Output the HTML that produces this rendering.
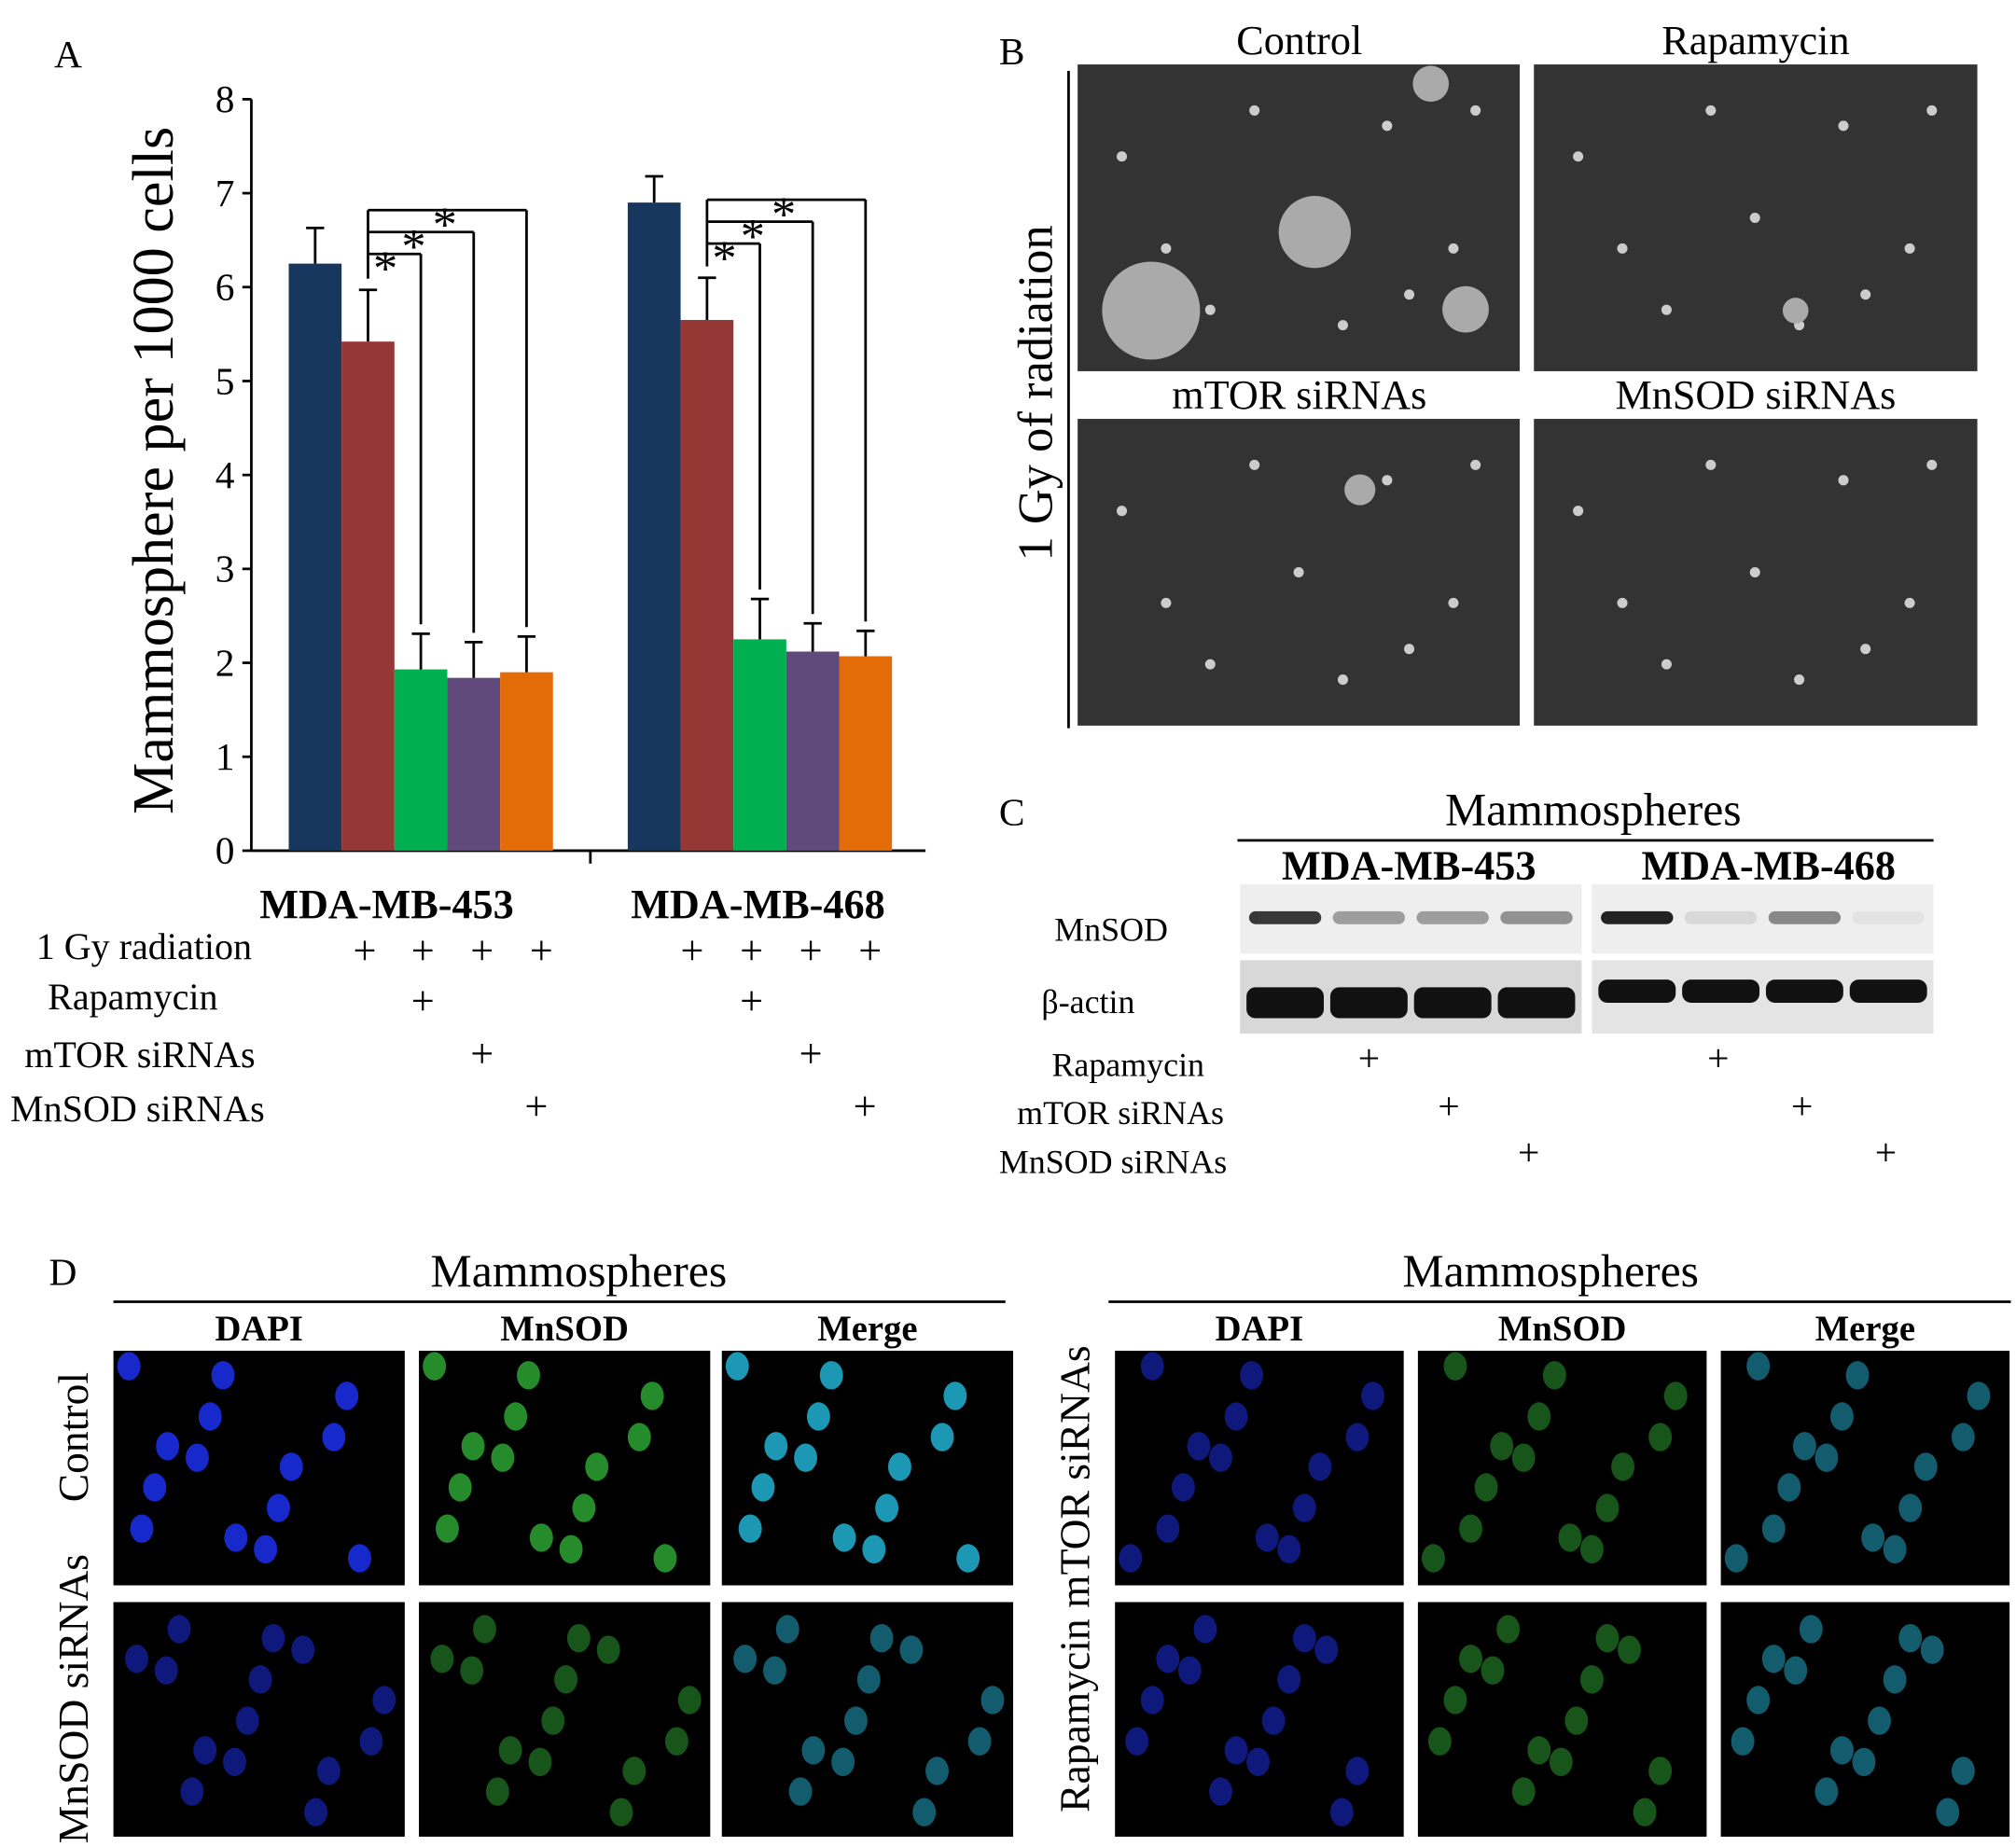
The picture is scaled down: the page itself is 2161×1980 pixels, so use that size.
<!DOCTYPE html>
<html><head><meta charset="utf-8"><style>
html,body{margin:0;padding:0;background:#fff}
svg{display:block}
text{font-family:"Liberation Serif",serif;fill:#000}
</style></head><body>
<svg id="fig" width="2161" height="1980" viewBox="0 0 1564 1433" xmlns="http://www.w3.org/2000/svg">
<rect width="1564" height="1433" fill="#fff"/>
<text x="42" y="52" font-size="30">A</text>
<g id="chartA"></g>
<text x="775" y="50" font-size="30">B</text>
<text x="775" y="640" font-size="30">C</text>
<text x="38" y="997" font-size="30">D</text>
<g id="panelB"></g>
<g id="panelC"></g>
<g id="panelD"></g>
</svg>
<script>
const NS="http://www.w3.org/2000/svg";
function mk(p,t,a,txt){const e=document.createElementNS(NS,t);for(const k in a)e.setAttribute(k,a[k]);if(txt!==undefined)e.textContent=txt;p.appendChild(e);return e;}
// ---- Chart data ----
const groups=["MDA-MB-453","MDA-MB-468"];
const seriesNames=["Control","Radiation","Rapamycin","mTOR siRNAs","MnSOD siRNAs"];
const seriesColors=["#17375e","#953735","#00b050","#604a7b","#e36c09"];
const values453=[6.25,5.42,1.93,1.84,1.9];
const values468=[6.9,5.65,2.25,2.12,2.07];
const errors453=[0.38,0.55,0.38,0.38,0.38];
const errors468=[0.28,0.45,0.43,0.3,0.27];
const yTicks=[0,1,2,3,4,5,6,7,8];
const A=document.getElementById('chartA');
const y0=660,yTop=77,yMax=8;
const yS=v=>y0-(v/yMax)*(y0-yTop);
const groupStart=[224,487],barW=41;
const xS=(g,i)=>groupStart[g]+i*barW;
let ax=mk(A,'line',{x1:195,y1:yTop,x2:195,y2:y0,stroke:'#000','stroke-width':2});

ax=mk(A,'line',{x1:195,y1:y0,x2:718,y2:y0,stroke:'#000','stroke-width':2});

mk(A,'line',{x1:458,y1:y0,x2:458,y2:y0+10,stroke:'#000','stroke-width':2});
yTicks.forEach(v=>{
 mk(A,'line',{x1:188,y1:yS(v),x2:195,y2:yS(v),stroke:'#000','stroke-width':2});
 const t=mk(A,'text',{x:182,y:yS(v)+10,'font-size':30,'text-anchor':'end'},v);
 
});
const yt=mk(A,'text',{x:0,y:0,'font-size':45,'text-anchor':'middle',transform:'translate(134,365) rotate(-90)'},'Mammosphere per 1000 cells');

const plusRowX=[[283,328,374,420],[537,583,629,675]];
[values453,values468].forEach((vals,g)=>{
 const errs=g?errors468:errors453;
 vals.forEach((v,i)=>{
  const r=mk(A,'rect',{x:xS(g,i),y:yS(v),width:barW,height:y0-yS(v),fill:seriesColors[i]});
  
  
  const cx=xS(g,i)+barW/2;
  mk(A,'line',{x1:cx,y1:yS(v),x2:cx,y2:yS(v+errs[i]),stroke:'#000','stroke-width':2});
  mk(A,'line',{x1:cx-7,y1:yS(v+errs[i]),x2:cx+7,y2:yS(v+errs[i]),stroke:'#000','stroke-width':2});
 });
 const bx=xS(g,1)+barW/2;
 const levels=[yS(vals[1]+errs[1]+0.12)];
 const hy=[163,180,197].map(h=>h+(g?-8:0));
 mk(A,'line',{x1:bx,y1:hy[0],x2:bx,y2:levels[0],stroke:'#000','stroke-width':2});
 [4,3,2].forEach((k,j)=>{
  const tx=xS(g,k)+barW/2;
  mk(A,'line',{x1:bx,y1:hy[j],x2:tx,y2:hy[j],stroke:'#000','stroke-width':2});
  mk(A,'line',{x1:tx,y1:hy[j],x2:tx,y2:yS(vals[k]+errs[k]+0.1),stroke:'#000','stroke-width':2});
 });
 mk(A,'text',{x:bx+50,y:hy[0]+24,'font-size':38},'*');
 mk(A,'text',{x:bx+26,y:hy[1]+24,'font-size':38},'*');
 mk(A,'text',{x:bx+4,y:hy[2]+24,'font-size':38},'*');
 const gl=mk(A,'text',{x:[300,588][g],y:712,'font-size':32,'font-weight':'bold','text-anchor':'middle'},groups[g]);
 
 for(let i=0;i<4;i++) mk(A,'text',{x:plusRowX[g][i],y:748,'font-size':32,'text-anchor':'middle'},'+');
 for(let i=1;i<4;i++) mk(A,'text',{x:plusRowX[g][i]-(i==3?4:0),y:787+(i-1)*41,'font-size':32,'text-anchor':'middle'},'+');
});
[['1 Gy radiation',28,744],['Rapamycin',37,783],['mTOR siRNAs',19,828],['MnSOD siRNAs',8,870]].forEach(a=>{
 const t=mk(A,'text',{x:a[1],y:a[2],'font-size':29},a[0]);
});
// ---- Panel B ----
const B=document.getElementById('panelB');
mk(B,'line',{x1:829,y1:55,x2:829,y2:565,stroke:'#000','stroke-width':2});
mk(B,'text',{x:0,y:0,'font-size':38,'text-anchor':'middle',transform:'translate(816,305) rotate(-90)'},'1 Gy of radiation');
[[836,50,'Control'],[1190,50,'Rapamycin'],[836,325,'mTOR siRNAs'],[1190,325,'MnSOD siRNAs']].forEach((p,k)=>{
 const r=mk(B,'rect',{x:p[0],y:p[1],width:p[0]>1000?344:343,height:238,fill:'#333'});
 
 mk(B,'text',{x:p[0]+172,y:p[1]-8,'font-size':32,'text-anchor':'middle'},p[2]);
 const dots=[[0.1,0.3],[0.3,0.8],[0.5,0.5],[0.7,0.2],[0.85,0.6],[0.2,0.6],[0.6,0.85],[0.9,0.15],[0.4,0.15],[0.75,0.75]];
 dots.forEach(d=>mk(B,'circle',{cx:p[0]+d[0]*343,cy:p[1]+d[1]*238,r:4,fill:'#ccc'}));
 if(k==0){mk(B,'circle',{cx:893,cy:241,r:38,fill:'#aaa'});mk(B,'circle',{cx:1020,cy:180,r:28,fill:'#aaa'});mk(B,'circle',{cx:1137,cy:240,r:18,fill:'#aaa'});mk(B,'circle',{cx:1110,cy:65,r:14,fill:'#aaa'});}
 if(k==1)mk(B,'circle',{cx:1393,cy:241,r:10,fill:'#aaa'});
 if(k==2)mk(B,'circle',{cx:1055,cy:380,r:12,fill:'#aaa'});
});
// ---- Panel C ----
const C=document.getElementById('panelC');
mk(C,'text',{x:1236,y:640,'font-size':36,'text-anchor':'middle'},'Mammospheres');
mk(C,'line',{x1:960,y1:652,x2:1500,y2:652,stroke:'#000','stroke-width':2});
mk(C,'text',{x:1093,y:682,'font-size':32,'font-weight':'bold','text-anchor':'middle'},'MDA-MB-453');
mk(C,'text',{x:1372,y:682,'font-size':32,'font-weight':'bold','text-anchor':'middle'},'MDA-MB-468');
mk(C,'text',{x:818,y:730,'font-size':26},'MnSOD');
mk(C,'text',{x:808,y:786,'font-size':26},'β-actin');
[[962,265],[1235,265]].forEach((b,g)=>{
 mk(C,'rect',{x:b[0],y:686,width:b[1],height:54,fill:'#eee'});
 mk(C,'rect',{x:b[0],y:745,width:b[1],height:57,fill:g?'#e4e4e4':'#d8d8d8'});
 for(let i=0;i<4;i++){
  const cx=b[0]+35+i*65;
  const mns=g?[1,0.1,0.5,0.05][i]:[0.9,0.4,0.4,0.45][i];
  mk(C,'rect',{x:cx-28,y:707,width:56,height:10,rx:5,fill:'#222','fill-opacity':mns});
  mk(C,'rect',{x:cx-30,y:g?760:766,width:60,height:g?18:24,rx:7,fill:'#111'});
 }
});
[['Rapamycin',816,835],['mTOR siRNAs',789,872],['MnSOD siRNAs',775,910]].forEach((a,i)=>{
 mk(C,'text',{x:a[1],y:a[2],'font-size':26},a[0]);
 mk(C,'text',{x:1062+i*62,y:a[2]+(i==2?-6:-4),'font-size':30,'text-anchor':'middle'},'+');
 mk(C,'text',{x:1333+i*65,y:a[2]+(i==2?-6:-4),'font-size':30,'text-anchor':'middle'},'+');
});
// ---- Panel D ----
const D=document.getElementById('panelD');
[[88,1000,449],[860,1000,1203]].forEach((s,h)=>{
 mk(D,'text',{x:s[2],y:s[1]-2,'font-size':36,'text-anchor':'middle'},'Mammospheres');
 mk(D,'line',{x1:s[0],y1:s[1]+10,x2:s[0]+(h?700:692),y2:s[1]+10,stroke:'#000','stroke-width':2});
 const cols=h?[865,1100,1335]:[88,325,560];
 const w=h?224:226;
 ['DAPI','MnSOD','Merge'].forEach((n,c)=>{
  mk(D,'text',{x:cols[c]+w/2,y:1040,'font-size':28,'font-weight':'bold','text-anchor':'middle'},n);
  [1048,1243].forEach((yy,r)=>{
   mk(D,'rect',{x:cols[c],y:yy,width:w,height:182,fill:'#000'});
   for(let k=0;k<14;k++){
    const px=cols[c]+12+((k*53+r*29+h*17)%(w-24));
    const py=yy+12+((k*71+r*41)%158);
    const col=c==0?'#1a2ee0':c==1?'#2a9a30':'#20a8c8';
    mk(D,'ellipse',{cx:px,cy:py,rx:9,ry:11,fill:col,'fill-opacity':(r==0&&h==0)?0.9:0.55});
   }
  });
 });
});
mk(D,'text',{x:0,y:0,'font-size':33,'text-anchor':'middle',transform:'translate(68,1115) rotate(-90)'},'Control');
mk(D,'text',{x:0,y:0,'font-size':33,'text-anchor':'middle',transform:'translate(68,1318) rotate(-90)'},'MnSOD siRNAs');
mk(D,'text',{x:0,y:0,'font-size':33,'text-anchor':'middle',transform:'translate(845,1225) rotate(-90)'},'Rapamycin mTOR siRNAs');
</script>
</body></html>
